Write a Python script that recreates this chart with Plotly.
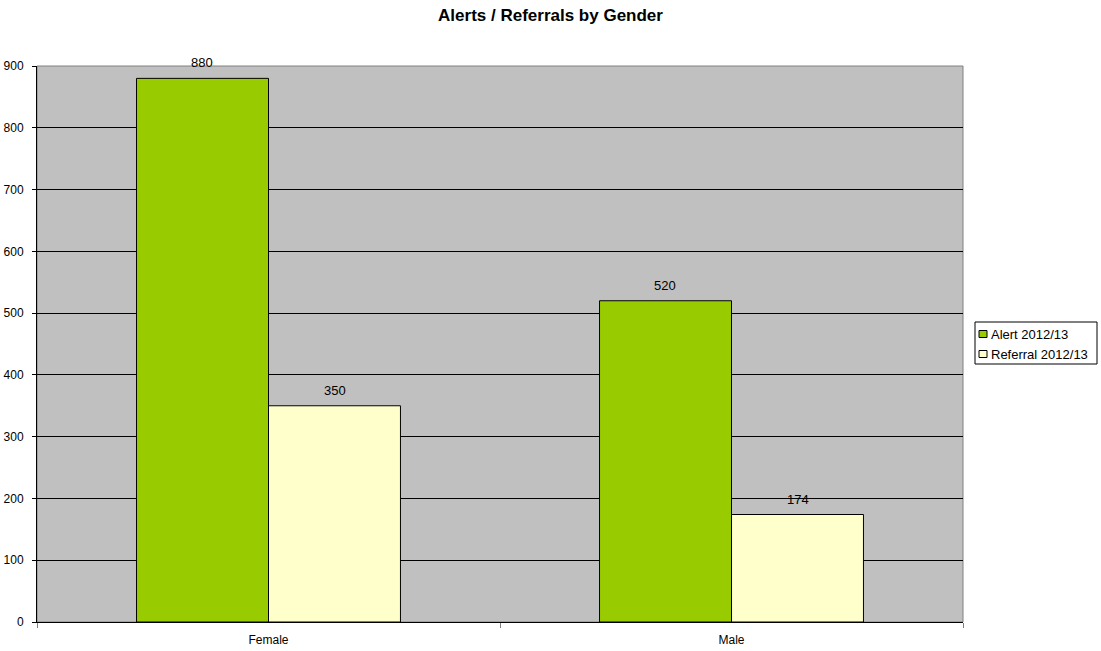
import plotly.graph_objects as go

categories = ["Female", "Male"]
alert_values = [880, 520]
referral_values = [350, 174]
series_names = ["Alert 2012/13", "Referral 2012/13"]
series_colors = ["#99CC00", "#FFFFCC"]

font_family = "Liberation Sans, Arial, sans-serif"

W, H = 1101, 651
ML, MR, MT, MB = 37, 138, 66, 29
PW, PH = W - ML - MR, H - MT - MB


def px_x(px):
    return (px - ML) / PW


def px_y(py):
    return (H - MB - py) / PH


fig = go.Figure()
for name, vals, col in zip(series_names, [alert_values, referral_values], series_colors):
    fig.add_trace(go.Bar(
        x=categories, y=vals, name=name,
        marker=dict(color=col, line=dict(color="#000000", width=1)),
    ))

# value labels above each bar, offset within the group
offsets = [-0.143, 0.143]
for vals, off in zip([alert_values, referral_values], offsets):
    for i, v in enumerate(vals):
        fig.add_annotation(
            x=i + off, y=v, xref="x", yref="y", text=str(v),
            showarrow=False, yanchor="bottom", yshift=6,
            font=dict(family=font_family, size=13, color="#000000"),
        )

fig.update_layout(
    width=W, height=H,
    margin=dict(l=ML, r=MR, t=MT, b=MB, autoexpand=False),
    paper_bgcolor="#FFFFFF",
    plot_bgcolor="#C0C0C0",
    barmode="group",
    bargap=0.43,
    bargroupgap=0,
    font=dict(family=font_family, size=12, color="#000000"),
    title=dict(
        text="<b>Alerts / Referrals by Gender</b>",
        x=0.5, xref="container", xanchor="center",
        y=1 - 15 / H, yref="container", yanchor="middle",
        font=dict(family=font_family, size=17, color="#000000"),
    ),
    showlegend=False,
)

fig.update_xaxes(
    type="category",
    automargin=False,
    showgrid=False,
    showline=True, linecolor="#000000", linewidth=1,
    ticks="outside", tickson="boundaries", ticklen=5, tickcolor="#808080",
    ticklabelstandoff=7,
    tickfont=dict(family=font_family, size=12, color="#000000"),
)
fig.update_yaxes(
    range=[0, 900],
    dtick=100,
    automargin=False,
    showgrid=True, gridcolor="#000000", gridwidth=1,
    showline=True, linecolor="#000000", linewidth=1,
    ticks="outside", ticklen=4, tickcolor="#000000",
    ticklabelstandoff=6,
    zeroline=False,
    tickfont=dict(family=font_family, size=12, color="#000000"),
)

# plot area frame
fig.add_shape(
    type="rect", xref="paper", yref="paper", x0=0, y0=0, x1=1, y1=1,
    line=dict(color="#808080", width=1), layer="below",
)

# legend box drawn to the right of the plot area
fig.add_shape(
    type="rect", xref="paper", yref="paper",
    x0=px_x(975), x1=px_x(1097), y0=px_y(364), y1=px_y(322),
    line=dict(color="#000000", width=1), fillcolor="#FFFFFF",
)
for k, (name, col) in enumerate(zip(series_names, series_colors)):
    cy = 334 + 20 * k
    fig.add_shape(
        type="rect", xref="paper", yref="paper",
        x0=px_x(979), x1=px_x(987), y0=px_y(cy + 3.5), y1=px_y(cy - 3.5),
        line=dict(color="#000000", width=1), fillcolor=col,
    )
    fig.add_annotation(
        x=px_x(989), y=px_y(cy), xref="paper", yref="paper",
        text=name, showarrow=False, xanchor="left", yanchor="middle",
        font=dict(family=font_family, size=13, color="#000000"),
    )

fig.write_html("out.html")
